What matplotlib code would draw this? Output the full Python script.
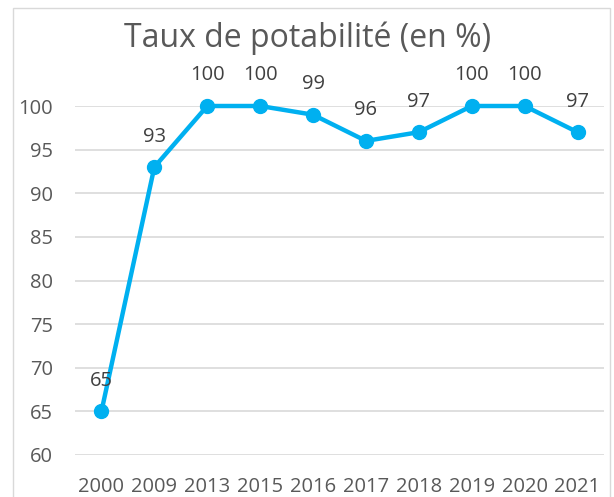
import matplotlib
matplotlib.use("Agg")
import matplotlib.pyplot as plt
from matplotlib.patches import Rectangle

years = ["2000", "2009", "2013", "2015", "2016", "2017", "2018", "2019", "2020", "2021"]
values = [65, 93, 100, 100, 99, 96, 97, 100, 100, 97]
yticks = [60, 65, 70, 75, 80, 85, 90, 95, 100]

plt.rcParams['font.family'] = ['Open Sans', 'DejaVu Sans']

fig = plt.figure(figsize=(6.14, 4.97), dpi=100)
border = Rectangle((12.5/614, -0.1), (610 - 12.5)/614, 1 - 8/497 + 0.1, transform=fig.transFigure,
                   facecolor='white', edgecolor='#D9D9D9', lw=1.0, zorder=-5)
fig.patches.append(border)
ax = fig.add_axes([75/614, 1 - 455/497, 529/614, (455 - 106)/497])
ax.set_zorder(5)
ax.set_facecolor('none')

x = list(range(len(years)))
ax.plot(x, values, color='#00B0F0', lw=3.2, marker='o', markersize=10, clip_on=False, zorder=3)
for xi, v in zip(x, values):
    ax.annotate(str(v), (xi, v), xytext=(0, 22), textcoords='offset points',
                ha='center', va='center', fontsize=14.5, color='#404040')

ax.set_xlim(-0.5, len(years) - 0.5)
ax.set_ylim(60, 100)
ax.set_yticks(yticks)
ax.set_xticks(x)
ax.set_xticklabels(years)
ax.grid(axis='y', color='#D9D9D9', lw=1.2)
ax.set_axisbelow(True)
for s in ax.spines.values():
    s.set_visible(False)
ax.tick_params(length=0, labelsize=14.5, colors='#595959')
ax.tick_params(axis='x', pad=16)
ax.tick_params(axis='y', pad=16)

fig.text(308/614, 1 - 38/497, "Taux de potabilité (en %)", ha='center', va='center',
         fontsize=23, color='#595959', zorder=10)

fig.savefig("out.png", dpi=100)
